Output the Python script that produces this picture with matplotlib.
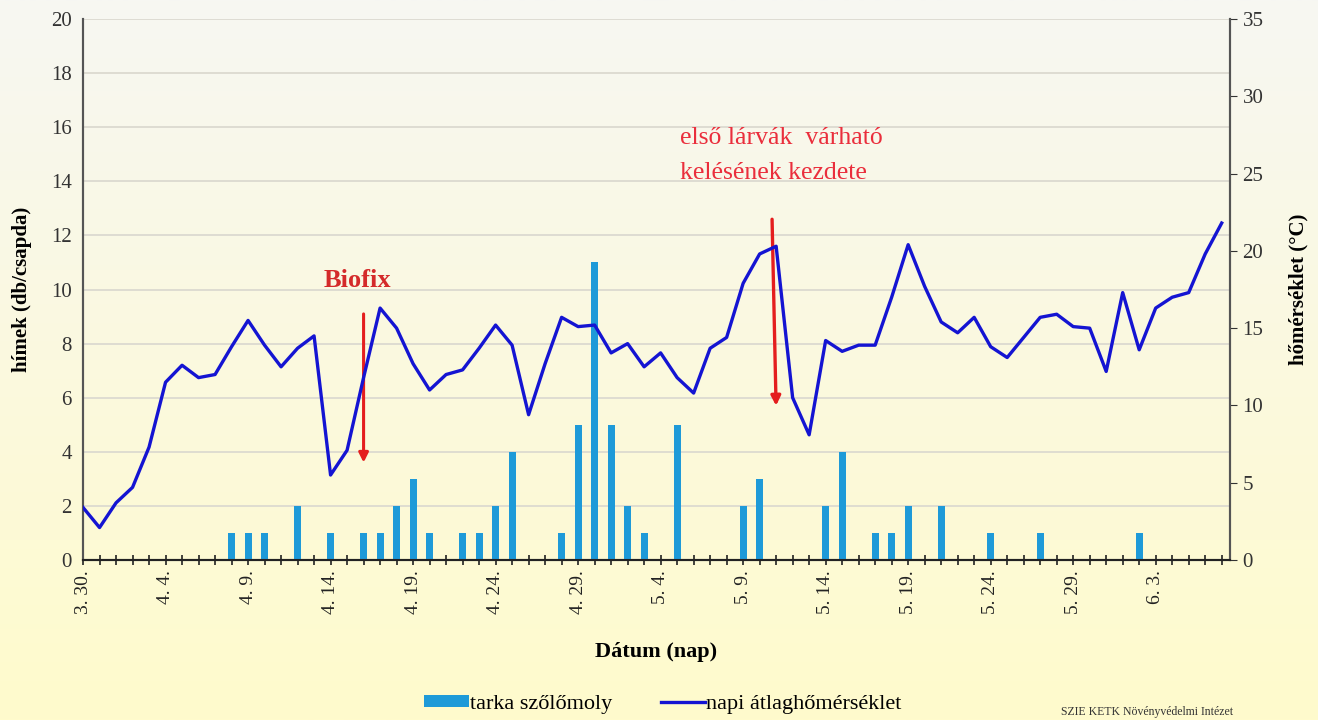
import matplotlib as mpl
mpl.use('Agg')
import matplotlib.pyplot as plt
import numpy as np

out_file = 'out.png'

# x axis: days counted from 3.30 (day 0) to 6.7 (day 69)
tick_days = [0, 5, 10, 15, 20, 25, 30, 35, 40, 45, 50, 55, 60, 65]
tick_labels = ['3. 30.', '4. 4.', '4. 9.', '4. 14.', '4. 19.', '4. 24.', '4. 29.',
               '5. 4.', '5. 9.', '5. 14.', '5. 19.', '5. 24.', '5. 29.', '6. 3.']

# trap catches (males / trap), only days with catches
catch_days = [9, 10, 11, 13, 15, 17, 18, 19, 20, 21, 23, 24, 25, 26, 29, 30, 31,
              32, 33, 34, 36, 40, 41, 45, 46, 48, 49, 50, 52, 55, 58, 64]
catch_counts = [1, 1, 1, 2, 1, 1, 1, 2, 3, 1, 1, 1, 2, 4, 1, 5, 11,
                5, 2, 1, 5, 2, 3, 2, 4, 1, 1, 2, 2, 1, 1, 1]

# daily mean temperature (°C), day 0..69
temps = [3.4, 2.1, 3.7, 4.7, 7.3, 11.5, 12.6, 11.8, 12.0, 13.8,
         15.5, 13.9, 12.5, 13.7, 14.5, 5.5, 7.1, 11.8, 16.3, 15.0,
         12.7, 11.0, 12.0, 12.3, 13.7, 15.2, 13.9, 9.4, 12.7, 15.7,
         15.1, 15.2, 13.4, 14.0, 12.5, 13.4, 11.8, 10.8, 13.7, 14.4,
         17.9, 19.8, 20.3, 10.5, 8.1, 14.2, 13.5, 13.9, 13.9, 17.0,
         20.4, 17.7, 15.4, 14.7, 15.7, 13.8, 13.1, 14.4, 15.7, 15.9,
         15.1, 15.0, 12.2, 17.3, 13.6, 16.3, 17.0, 17.3, 19.8, 21.8]

serif = ['Liberation Serif', 'DejaVu Serif']
plt.rcParams['font.family'] = serif

fig = plt.figure(figsize=(13.18, 7.2), dpi=100)

# yellowish gradient background
bg = fig.add_axes([0, 0, 1, 1], zorder=-10)
grad = np.linspace(0, 1, 256)[:, None]
top_c = np.array([247, 247, 242]) / 255.
bot_c = np.array([255, 251, 204]) / 255.
img = top_c[None, None, :] * (1 - grad[:, :, None]) + bot_c[None, None, :] * grad[:, :, None]
bg.imshow(img, aspect='auto', extent=[0, 1, 0, 1])
bg.axis('off')

ax1 = fig.add_axes([0.063, 0.2222, 0.8702, 0.7514])
ax1.set_facecolor('none')
ax2 = ax1.twinx()

bar_col = '#1e9ad8'
line_col = '#1414d2'

bars = ax1.bar(catch_days, catch_counts, width=0.42, color=bar_col, zorder=3,
               label='tarka szőlőmoly')
line, = ax2.plot(np.arange(len(temps)), temps, color=line_col, lw=2.4,
                 label='napi átlaghőmérséklet', zorder=4)

ax1.set_xlim(0, 69.5)
ax1.set_ylim(0, 20)
ax2.set_ylim(0, 35)
ax1.set_yticks(np.arange(0, 21, 2))
ax2.set_yticks(np.arange(0, 36, 5))

ax1.set_xticks(tick_days)
ax1.set_xticklabels(tick_labels, rotation=90)
ax1.set_xticks(np.arange(0, 70), minor=True)
ax1.tick_params(axis='x', which='both', direction='inout', length=7, width=1.2,
                colors='#222222', labelsize=14, pad=4)
ax1.tick_params(axis='y', length=0, labelsize=15, colors='#333333', pad=8)
ax2.tick_params(axis='y', direction='out', length=5, labelsize=15,
                colors='#333333', pad=4)

ax1.grid(axis='y', color='#dcdad0', lw=1.3, zorder=0)
ax1.set_axisbelow(True)

for a in (ax1, ax2):
    a.spines['top'].set_visible(False)
    a.spines['left'].set_color('#555555')
    a.spines['right'].set_color('#555555')
    a.spines['bottom'].set_color('#222222')
    a.spines['left'].set_linewidth(1.5)
    a.spines['right'].set_linewidth(1.5)
    a.spines['bottom'].set_linewidth(1.5)

ax1.set_ylabel('hímek (db/csapda)', fontsize=15, fontweight='bold', labelpad=14)
ax2.set_ylabel('hőmérséklet (°C)', fontsize=15, fontweight='bold', labelpad=18)
ax1.set_xlabel('Dátum (nap)', fontsize=16, fontweight='bold', labelpad=20)

# annotations
ax1.text(16.6, 10.35, 'Biofix', color='#d42a2a', fontsize=19, fontweight='bold',
         ha='center', va='center', zorder=6)
ax1.annotate('', xy=(17.0, 3.5), xytext=(17.0, 9.2),
             arrowprops=dict(arrowstyle='-|>', color='#e41e1e', lw=2.2,
                             mutation_scale=14), zorder=6)
ax1.text(36.2, 14.95, 'első lárvák  várható\nkelésének kezdete', color='#ea2e3c',
         fontsize=18.5, ha='left', va='center', linespacing=1.75, zorder=6)
ax1.annotate('', xy=(42.0, 5.6), xytext=(41.75, 12.7),
             arrowprops=dict(arrowstyle='-|>', color='#e41e1e', lw=2.4,
                             mutation_scale=14), zorder=6)

fig.legend(handles=[bars, line], loc='center', bbox_to_anchor=(0.503, 0.022),
           ncol=2, frameon=False, fontsize=16, handlelength=2.0, handleheight=0.5,
           handletextpad=0.05, columnspacing=2.2)

fig.text(0.805, 0.003, 'SZIE KETK Növényvédelmi Intézet', fontsize=8.5, color='#333333',
         ha='left', va='bottom')

plt.savefig(out_file, dpi=100)
